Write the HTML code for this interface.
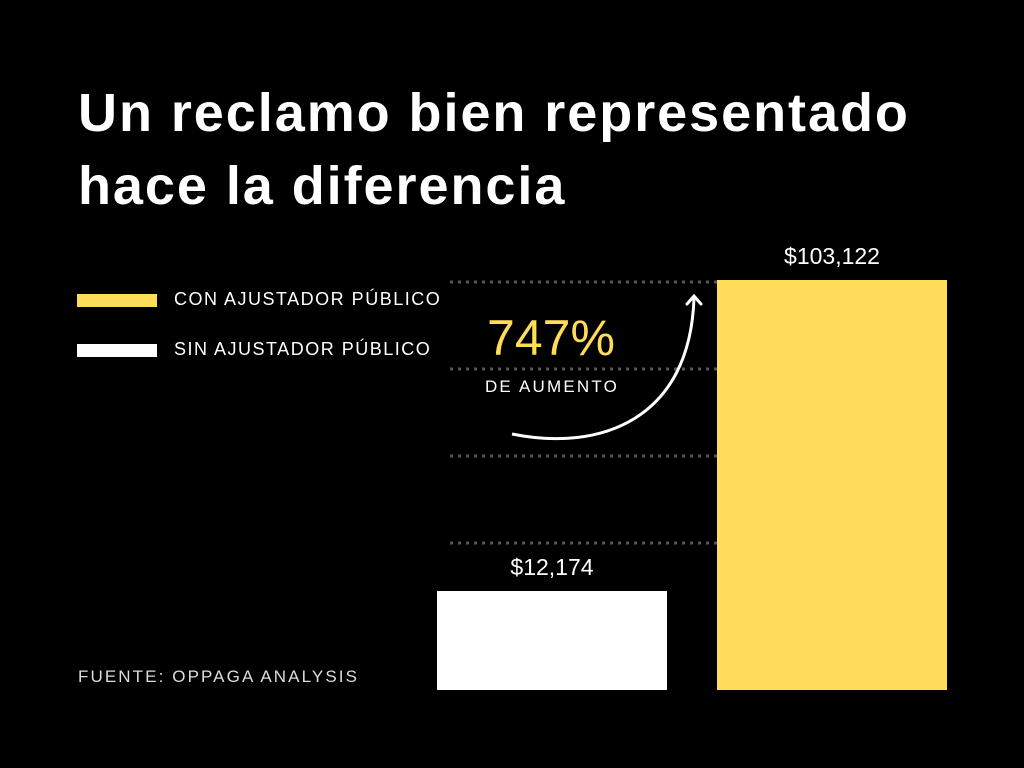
<!DOCTYPE html>
<html><head><meta charset="utf-8">
<style>
body{margin:0;background:#000;width:1024px;height:768px;overflow:hidden;font-family:"Liberation Sans",sans-serif;}
.t{position:absolute;color:#fff;white-space:nowrap}
</style></head>
<body>
<div class="t" style="left:78px;top:77px;font-size:54px;font-weight:bold;line-height:73px;letter-spacing:1.95px">Un reclamo bien representado<br>hace la diferencia</div>
<div style="position:absolute;left:77px;top:294px;width:80px;height:13px;background:#ffdc5a"></div>
<div class="t" style="left:174px;top:289px;font-size:18px;letter-spacing:1.5px">CON AJUSTADOR PÚBLICO</div>
<div style="position:absolute;left:77px;top:344px;width:80px;height:13px;background:#fff"></div>
<div class="t" style="left:174px;top:339px;font-size:18px;letter-spacing:1.5px">SIN AJUSTADOR PÚBLICO</div>
<div class="t" style="left:78px;top:667px;font-size:17px;color:#ddd;letter-spacing:2.1px">FUENTE: OPPAGA ANALYSIS</div>
<svg id="chart" width="1024" height="768" style="position:absolute;left:0;top:0">
<g id="grid"></g><g id="bars"></g>
<text x="551" y="355" fill="#ffdc5a" font-size="50" text-anchor="middle" font-family="Liberation Sans">747%</text>
<text x="552" y="392" fill="#fff" font-size="17" text-anchor="middle" letter-spacing="2.2" font-family="Liberation Sans">DE AUMENTO</text>
<path d="M512,434 C600,452 690,420 694,298" fill="none" stroke="#fff" stroke-width="3"/>
<path d="M687,304 L694,296 L701,304" fill="none" stroke="#fff" stroke-width="3" stroke-linecap="round"/>
</svg>
<script>
const categories=["Sin ajustador público","Con ajustador público"];
const values=[12174,103122];
const valueLabels=["$12,174","$103,122"];
const colors=["#ffffff","#ffdc5a"];
const gridCount=4;
const ns="http://www.w3.org/2000/svg";
const baseY=690, dMin=-16777, dMax=103122, topY=280;
function y(v){return baseY-(v-dMin)/(dMax-dMin)*(baseY-topY);}
function x(i){return 437+i*280;}
const grid=document.getElementById('grid');
for(let k=0;k<gridCount;k++){
  const l=document.createElementNS(ns,'line');
  const gy=282+k*87;
  l.setAttribute('x1',450);l.setAttribute('x2',717);l.setAttribute('y1',gy);l.setAttribute('y2',gy);
  l.setAttribute('stroke','#555');l.setAttribute('stroke-width','3');l.setAttribute('stroke-dasharray','3 5');
  
  
  grid.appendChild(l);
}
const bars=document.getElementById('bars');
values.forEach((v,i)=>{
  const r=document.createElementNS(ns,'rect');
  r.setAttribute('x',x(i));r.setAttribute('width',230);
  r.setAttribute('y',y(v));r.setAttribute('height',baseY-y(v));r.setAttribute('fill',colors[i]);
  
  
  bars.appendChild(r);
  const t=document.createElementNS(ns,'text');
  t.setAttribute('x',x(i)+115);t.setAttribute('y',y(v)-16);t.setAttribute('fill','#fff');
  t.setAttribute('font-size','23');t.setAttribute('text-anchor','middle');t.setAttribute('font-family','Liberation Sans');
  t.textContent=valueLabels[i];
  
  
  bars.appendChild(t);
});
</script>
</body></html>
